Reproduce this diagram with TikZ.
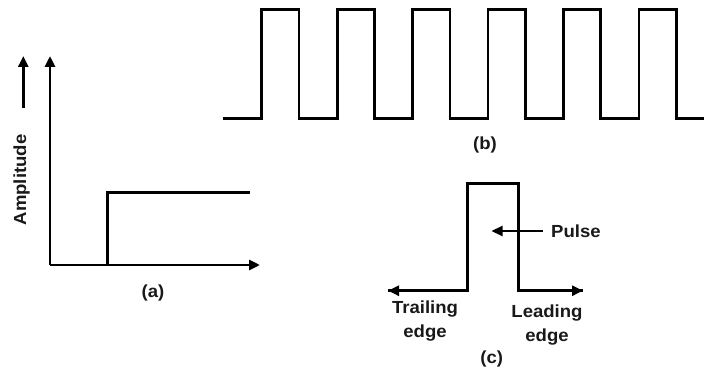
\documentclass[tikz,border=0pt]{standalone}
\usepackage{fontspec}
\setmainfont{Liberation Sans}
\usetikzlibrary{arrows.meta}
\newcommand{\wide}[1]{\scalebox{1.06}[1]{#1}}
\tikzset{
  wave/.style={line width=2.8pt, line join=miter, black},
  axis/.style={line width=2.8pt, black, -{Triangle[length=11pt,width=10pt]}},
  lbl/.style={inner sep=0pt, text=black!90, font=\fontsize{17.5}{24.5}\selectfont\bfseries, align=center}
}
\begin{document}
\begin{tikzpicture}[x=1pt,y=-1pt]
\useasboundingbox (0,0) rectangle (704,377);
% ---------- (a) ----------
\coordinate (ytip) at (50,56);
\coordinate (org) at (50,265);
\coordinate (xtip) at (260,265);
\draw[axis] (org) -- (ytip);
\draw[axis] (org) -- (xtip);
\coordinate (stepA) at (107.3,265);
\coordinate (stepB) at (107.3,192.3);
\coordinate (stepC) at (250,192.3);
\draw[wave] (stepA) -- (stepB) -- (stepC);
\coordinate (ampA) at (23.3,108);
\coordinate (ampB) at (23.3,56);
\draw[axis] (ampA) -- (ampB);
\node[lbl, rotate=90] (ampl) at (21.7,180) {\wide{Amplitude}};
\node[lbl] (la) at (153,292.7) {\wide{(a)}};
% ---------- (b) ----------
\draw[wave] (223,118.3)
  foreach \k in {0,...,5} {
    -- ({261.7+75.46*\k},118.3) -- ({261.7+75.46*\k},9.3)
    -- ({299+75.46*\k},9.3) -- ({299+75.46*\k},118.3)
  } -- (704,118.3);
\node[lbl] (lb) at (485,145) {\wide{(b)}};
% ---------- (c) ----------
\coordinate (pl) at (467.7,290.7);
\coordinate (pr) at (518.3,290.7);
\coordinate (ptl) at (467.7,183.3);
\coordinate (ptr) at (518.3,183.3);
\coordinate (ltip) at (388,290.7);
\coordinate (rtip) at (583,290.7);
\draw[wave] (ltip) -- (pl) -- (ptl) -- (ptr) -- (pr) -- (rtip);
\draw[axis] (pl) -- (ltip);
\draw[axis] (pr) -- (rtip);
\node[lbl, anchor=west] (pulse) at (551,231) {\wide{Pulse}};
\coordinate (ptip) at (491.5,231);
\draw[axis, line width=2.2pt] (543,231) -- (ptip);
\node[lbl] (trail) at (425,321) {\wide{Trailing}\\\wide{edge}};
\node[lbl] (lead) at (547,325) {\wide{Leading}\\\wide{edge}};
\node[lbl] (lc) at (491.7,359) {\wide{(c)}};
\end{tikzpicture}
\end{document}
